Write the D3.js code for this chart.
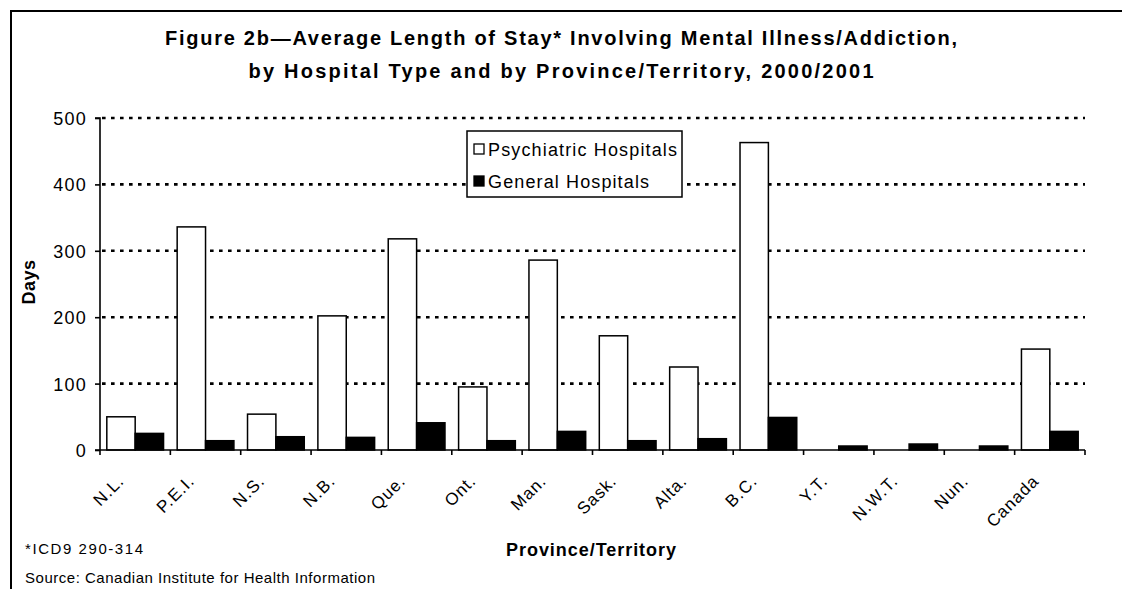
<!DOCTYPE html>
<html>
<head>
<meta charset="utf-8">
<script src="https://cdn.jsdelivr.net/npm/d3@7"></script>
<style>
  html, body { margin: 0; padding: 0; background: #fff; }
  svg { display: block; font-family: "Liberation Sans", Arial, sans-serif; }
</style>
</head>
<body>
<svg id="chart" width="1122" height="589"></svg>
<script>
const categories = ["N.L.", "P.E.I.", "N.S.", "N.B.", "Que.", "Ont.", "Man.", "Sask.", "Alta.", "B.C.", "Y.T.", "N.W.T.", "Nun.", "Canada"];
const psychiatric = [50, 336, 54, 202, 318, 95, 286, 172, 125, 463, null, null, null, 152];
const general = [25, 14, 20, 19, 41, 14, 28, 14, 17, 49, 6, 9, 6, 28];
const seriesNames = ["Psychiatric Hospitals", "General Hospitals"];
const yTicks = [0, 100, 200, 300, 400, 500];
const titleLines = ["Figure 2b\u2014Average Length of Stay* Involving Mental Illness/Addiction,",
                    "by Hospital Type and by Province/Territory, 2000/2001"];
const footnotes = ["*ICD9 290-314", "Source: Canadian Institute for Health Information"];

const svg = d3.select("#chart");
const W = 1122, H = 589;
const margin = { left: 100, right: 1122 - 1085, top: 118, bottom: 589 - 450 };

// frame (left and top edges)
svg.append("line").attr("x1", 11).attr("x2", 11).attr("y1", 10).attr("y2", H)
  .attr("stroke", "#000").attr("stroke-width", 2);
svg.append("line").attr("x1", 10).attr("x2", W).attr("y1", 11).attr("y2", 11)
  .attr("stroke", "#000").attr("stroke-width", 2);

const x = d3.scaleBand().domain(categories).range([margin.left, W - margin.right]).paddingInner(0).paddingOuter(0);
const xs = d3.scaleBand().domain(seriesNames).range([0, x.bandwidth()]).paddingInner(0).paddingOuter(0.24);
const y = d3.scaleLinear().domain([0, 500]).range([H - margin.bottom, margin.top]);

// title
svg.selectAll("text.title").data(titleLines).join("text")
  .attr("class", "title")
  .attr("x", 561).attr("y", (d, i) => 45 + i * 33)
  .attr("text-anchor", "middle")
  .attr("font-size", 20).attr("font-weight", "bold")
  .attr("textLength", (d, i) => i === 0 ? 792 : 625)
  .attr("lengthAdjust", "spacing")
  .text(d => d);

// gridlines
svg.append("g").selectAll("line").data(yTicks.filter(t => t > 0)).join("line")
  .attr("x1", margin.left + 2).attr("x2", W - margin.right)
  .attr("y1", d => y(d)).attr("y2", d => y(d))
  .attr("stroke", "#000").attr("stroke-width", 2.6)
  .attr("stroke-dasharray", "3.6 5.4");

// bars
const groups = svg.append("g").selectAll("g").data(categories).join("g")
  .attr("transform", d => `translate(${x(d)},0)`);
groups.each(function (c, i) {
  const g = d3.select(this);
  const vals = [psychiatric[i], general[i]];
  vals.forEach((v, k) => {
    if (v == null) return;
    g.append("rect")
      .attr("x", xs(seriesNames[k]))
      .attr("y", y(v))
      .attr("width", xs.bandwidth())
      .attr("height", y(0) - y(v))
      .attr("fill", k === 0 ? "#fff" : "#000")
      .attr("stroke", "#000").attr("stroke-width", 1.5);
  });
});

// y axis
const yAxis = d3.axisLeft(y).tickValues(yTicks).tickSize(5).tickPadding(8).tickFormat(d3.format("d"));
const gy = svg.append("g").attr("transform", `translate(${margin.left},0)`).call(yAxis);
gy.select(".domain").attr("stroke-width", 1.6).attr("d", `M-5,${y(500)}H0V${y(0)}`);
gy.selectAll(".tick line").attr("stroke-width", 1.6);
gy.selectAll(".tick text").attr("font-size", 18).attr("letter-spacing", 1.2)
  .attr("font-family", "Liberation Sans, Arial, sans-serif").attr("fill", "#000").attr("dy", "0.36em");

// x axis
const gx = svg.append("g").attr("transform", `translate(0,${y(0)})`);
gx.append("line").attr("x1", margin.left - 5).attr("x2", W - margin.right).attr("y1", 0).attr("y2", 0)
  .attr("stroke", "#000").attr("stroke-width", 1.6);
const boundaries = categories.map(c => x(c)).concat([x(categories[categories.length - 1]) + x.bandwidth()]);
gx.selectAll("line.tk").data(boundaries).join("line").attr("class", "tk")
  .attr("x1", d => d).attr("x2", d => d).attr("y1", 0).attr("y2", 5)
  .attr("stroke", "#000").attr("stroke-width", 1.6);
gx.selectAll("text").data(categories).join("text")
  .attr("transform", d => `translate(${x(d) + x.bandwidth() / 2 - 10},32) rotate(-45)`)
  .attr("text-anchor", "end")
  .attr("font-size", 17).attr("letter-spacing", 1)
  .text(d => d);

// axis titles
svg.append("text").attr("transform", `translate(35,282) rotate(-90)`)
  .attr("text-anchor", "middle").attr("font-size", 18).attr("font-weight", "bold")
  .attr("letter-spacing", 0.5)
  .text("Days");
svg.append("text").attr("x", 591).attr("y", 556)
  .attr("text-anchor", "middle").attr("font-size", 18).attr("font-weight", "bold")
  .attr("textLength", 170).attr("lengthAdjust", "spacing")
  .text("Province/Territory");

// legend
const lg = svg.append("g");
lg.append("rect").attr("x", 467).attr("y", 131).attr("width", 215).attr("height", 66)
  .attr("fill", "#fff").attr("stroke", "#000").attr("stroke-width", 1.5);
const legendRows = lg.selectAll("g").data(seriesNames).join("g")
  .attr("transform", (d, i) => `translate(0,${149 + i * 32})`);
legendRows.append("rect").attr("x", 474).attr("y", -5).attr("width", 10).attr("height", 10)
  .attr("fill", (d, i) => i === 0 ? "#fff" : "#000").attr("stroke", "#000").attr("stroke-width", 1.3);
legendRows.append("text").attr("x", 488).attr("y", 7)
  .attr("font-size", 18)
  .attr("textLength", (d, i) => i === 0 ? 189 : 161).attr("lengthAdjust", "spacing")
  .text(d => d);

// footnotes
svg.selectAll("text.foot").data(footnotes).join("text").attr("class", "foot")
  .attr("x", 25).attr("y", (d, i) => 554 + i * 29)
  .attr("font-size", 15)
  .attr("textLength", (d, i) => i === 0 ? 118 : 350).attr("lengthAdjust", "spacing")
  .text(d => d);
</script>
</body>
</html>
